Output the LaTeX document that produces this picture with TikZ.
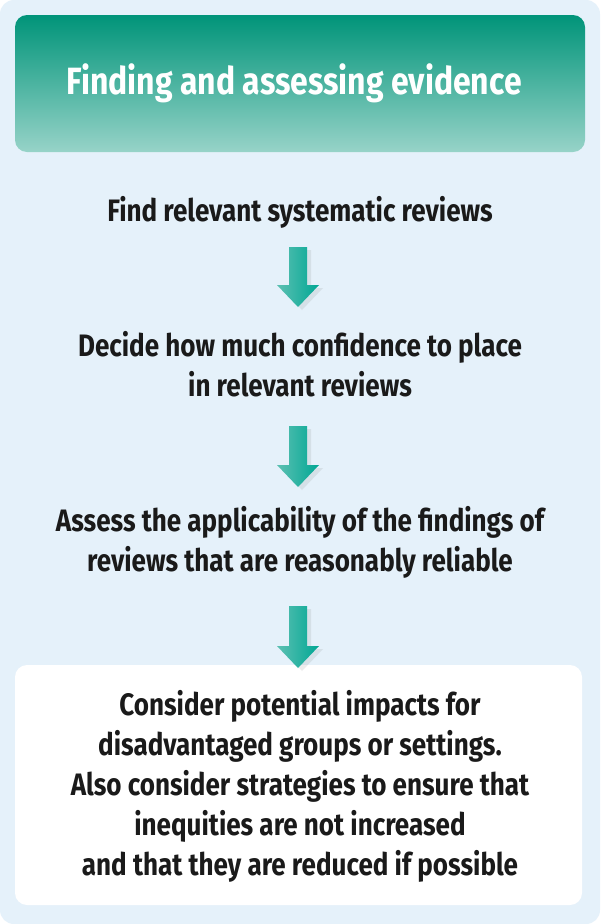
\documentclass[tikz,border=0pt]{standalone}
\usepackage{fontspec}
\setmainfont{Fira Sans}[FakeStretch=0.84]
\usetikzlibrary{positioning}
\usetikzlibrary{calc}
\usetikzlibrary{shadows}

\definecolor{panelblue}{HTML}{E5F1FA}
\definecolor{tealdark}{HTML}{009479}
\definecolor{tealmid}{HTML}{00AE9C}
\definecolor{teallight}{HTML}{97D3C8}
\definecolor{arrowlight}{HTML}{5CC0B2}
\definecolor{arrowdark}{HTML}{00A794}
\definecolor{inktext}{HTML}{1A1A1A}

\tikzset{
  steptext/.style={text=inktext, align=center, font=\bfseries\fontsize{31}{40}\selectfont},
  titletext/.style={text=white, font=\bfseries\fontsize{38}{46}\selectfont},
  blockarrow/.style={left color=arrowlight, right color=arrowdark, draw=none,
    drop shadow={shadow xshift=4pt, shadow yshift=-3pt, opacity=0.15}}
}

% block arrow from top point #1 to tip #2
\newcommand{\downblock}[2]{
  \path[blockarrow] ($(#1)+(-9,0)$) -- ($(#2)+(-9,-22)$) -- ($(#2)+(-21,-22)$) -- (#2)
    -- ($(#2)+(21,-22)$) -- ($(#2)+(9,-22)$) -- ($(#1)+(9,0)$) -- cycle;
}

\begin{document}
\begin{tikzpicture}[x=1pt, y=-1pt]
	\useasboundingbox (0,0) rectangle (600,924);
	\fill[white] (0,0) rectangle (600,924);
	\fill[panelblue, rounded corners=14pt] (0,0) rectangle (600,924);
	% header
	\shade[top color=tealdark, middle color=tealmid, bottom color=teallight, rounded corners=12pt] (15,15) rectangle (585,152);
	\node[titletext] (title) at (294,83) {Finding and assessing evidence};
	% final box
	\fill[white, rounded corners=12pt] (15,665) rectangle (582,905);
	% steps
	\node[steptext] (find) at (300,212) {Find relevant systematic reviews};
	\node[steptext] (decide) at (300,364) {Decide how much confidence to place\\in relevant reviews};
	\node[steptext] (assess) at (300,542) {Assess the applicability of the findings of\\reviews that are reasonably reliable};
	\node[steptext] (consider) at (300,786) {Consider potential impacts for\\disadvantaged groups or settings.\\Also consider strategies to ensure that\\inequities are not increased\\and that they are reduced if possible};
	% arrows
	\coordinate (a1) at (298,247);
	\coordinate (b1) at (298,307);
	\coordinate (a2) at (298,426);
	\coordinate (b2) at (298,487);
	\coordinate (a3) at (298,606);
	\coordinate (b3) at (298,668);
	\downblock{a1}{b1}
	\downblock{a2}{b2}
	\downblock{a3}{b3}
\end{tikzpicture}
\end{document}
